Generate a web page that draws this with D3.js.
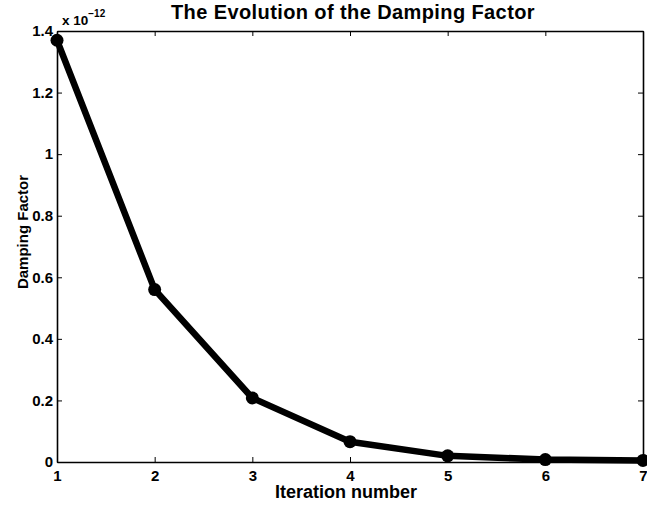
<!DOCTYPE html>
<html>
<head>
<meta charset="utf-8">
<script src="https://cdn.jsdelivr.net/npm/d3@7"></script>
<style>
  html, body { margin: 0; padding: 0; background: #fff; }
  svg { display: block; }
  text { font-family: "Liberation Sans", Arial, sans-serif; font-weight: bold; fill: #000; }
</style>
</head>
<body>
<svg id="chart" width="647" height="506"></svg>
<script>
// Damping factor per iteration (units of 1e-12)
const iterations = [1, 2, 3, 4, 5, 6, 7];
const damping = [1.37, 0.56, 0.208, 0.066, 0.020, 0.008, 0.005];
const xTicks = [1, 2, 3, 4, 5, 6, 7];
const yTicks = [0, 0.2, 0.4, 0.6, 0.8, 1, 1.2, 1.4];

const svg = d3.select("#chart");
const m = { left: 57, right: 4, top: 31, bottom: 44 };
const W = 647, H = 506;

const x = d3.scaleLinear().domain([1, 7]).range([m.left, W - m.right]);
const y = d3.scaleLinear().domain([0, 1.4]).range([H - m.bottom, m.top]);

const fmt = d => d3.format("~g")(d);
const styleLabels = g => g.selectAll("text")
  .attr("font-size", 15)
  .attr("font-family", "Liberation Sans, Arial, sans-serif")
  .attr("font-weight", "bold");

// bottom axis with inward ticks
svg.append("g")
  .attr("transform", `translate(0,${y(0)})`)
  .call(d3.axisBottom(x).tickValues(xTicks).tickSizeInner(-5).tickSizeOuter(0).tickPadding(8).tickFormat(fmt))
  .call(g => g.select(".domain").attr("stroke-width", 1.6))
  .call(styleLabels);

// top axis, ticks only
svg.append("g")
  .attr("transform", `translate(0,${y(1.4)})`)
  .call(d3.axisTop(x).tickValues(xTicks).tickSizeInner(-5).tickSizeOuter(0).tickFormat(""))
  .call(g => g.select(".domain").attr("stroke-width", 1.6));

// left axis with inward ticks
svg.append("g")
  .attr("transform", `translate(${x(1)},0)`)
  .call(d3.axisLeft(y).tickValues(yTicks).tickSizeInner(-5).tickSizeOuter(0).tickPadding(4).tickFormat(fmt))
  .call(g => g.select(".domain").attr("stroke-width", 1.6))
  .call(styleLabels);

// right axis, ticks only
svg.append("g")
  .attr("transform", `translate(${x(7)},0)`)
  .call(d3.axisRight(y).tickValues(yTicks).tickSizeInner(-5).tickSizeOuter(0).tickFormat(""))
  .call(g => g.select(".domain").attr("stroke-width", 1.6));

// exponent marker
const ex = svg.append("text")
  .attr("x", 62).attr("y", 25)
  .attr("font-size", 13.5);
ex.append("tspan").text("x 10");
ex.append("tspan").attr("dy", -8).attr("font-size", 10).text("−12");

// data line and markers
const line = d3.line().x((d, i) => x(iterations[i])).y(d => y(d));
svg.append("path")
  .datum(damping)
  .attr("d", line)
  .attr("fill", "none")
  .attr("stroke", "#000")
  .attr("stroke-width", 6.5)
  .attr("stroke-linejoin", "round");

svg.selectAll("circle.pt")
  .data(damping)
  .join("circle")
  .attr("class", "pt")
  .attr("cx", (d, i) => x(iterations[i]))
  .attr("cy", d => y(d))
  .attr("r", 6.5)
  .attr("fill", "#000");

// title and axis labels
svg.append("text")
  .attr("x", 353).attr("y", 19)
  .attr("text-anchor", "middle")
  .attr("font-size", 20)
  .attr("letter-spacing", 0.4)
  .text("The Evolution of the Damping Factor");

svg.append("text")
  .attr("x", 346).attr("y", 498)
  .attr("text-anchor", "middle")
  .attr("font-size", 18)
  .text("Iteration number");

svg.append("text")
  .attr("transform", `translate(28,232) rotate(-90)`)
  .attr("text-anchor", "middle")
  .attr("font-size", 15)
  .text("Damping Factor");
</script>
</body>
</html>
